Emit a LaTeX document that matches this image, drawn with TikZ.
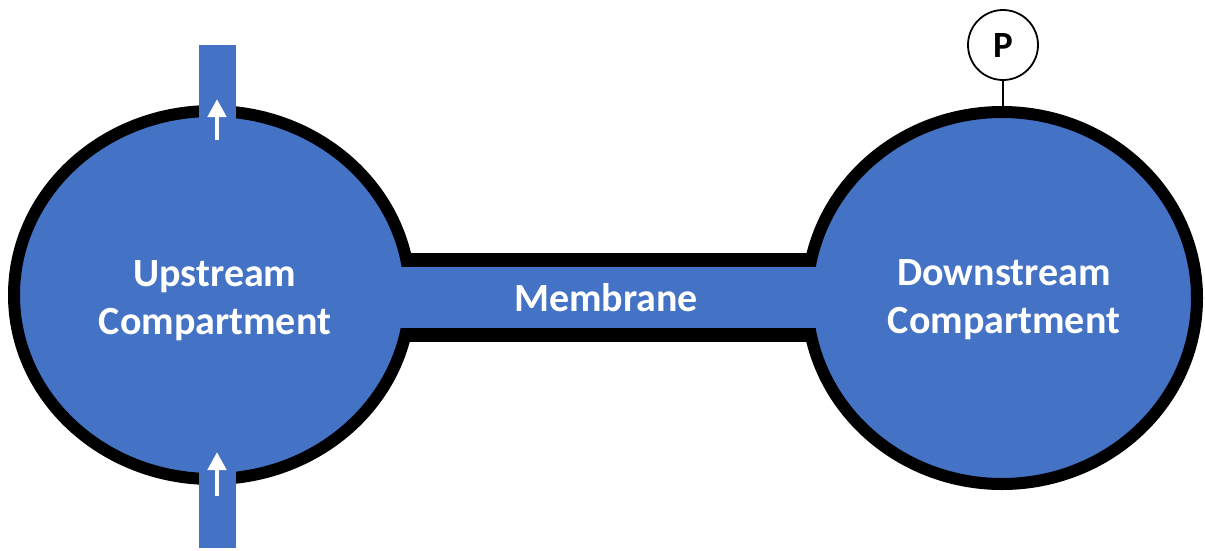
\documentclass[tikz,border=0pt]{standalone}
\usepackage{fontspec}
\setmainfont{Carlito}
\usetikzlibrary{shapes.geometric,arrows.meta}
\definecolor{officeblue}{HTML}{4472C4}
\begin{document}
\begin{tikzpicture}[x=1pt,y=-1pt,
  compartment/.style={ellipse,draw=black,line width=12pt,fill=officeblue,
    inner sep=0pt,minimum width=#1,text=white,align=center,
    font=\bfseries\fontsize{40}{49}\selectfont},
  pipe/.style={fill=officeblue},
  flowarrow/.style={draw=white,line width=4.5pt,-{Triangle[length=18pt,width=18pt]}},
  gauge/.style={circle,draw=black,line width=1.8pt,fill=white,minimum size=70pt,
    inner sep=0pt,font=\bfseries\fontsize{37}{44}\selectfont},
  label/.style={text=white,font=\bfseries\fontsize{40}{48}\selectfont}]
\useasboundingbox (0,0) rectangle (1205,550);
% channel walls
\fill[black] (380,253) rectangle (830,342);
% compartments
\node[compartment=396pt,minimum height=368pt] (up) at (212,295) {};
\node[compartment=390pt,minimum height=372pt] (down) at (1002,298) {};
\node[label,align=center] (uptext) at (215,301) {Upstream\\Compartment};
\node[label,align=center] (downtext) at (1004,300) {Downstream\\Compartment};
% channel interior
\fill[officeblue] (392,267) rectangle (826,328);
\node[label] (mem) at (606,298) {Membrane};
% pipes
\fill[pipe] (199,45) rectangle (236,150);
\fill[pipe] (199,440) rectangle (236,548);
% arrows
\coordinate (a1s) at (217,140);
\coordinate (a1e) at (217,99);
\coordinate (a2s) at (217,496);
\coordinate (a2e) at (217,452);
\draw[flowarrow] (a1s) -- (a1e);
\draw[flowarrow] (a2s) -- (a2e);
% pressure gauge
\node[gauge] (P) at (1003,45) {P};
\draw[line width=1.8pt] (P.south) -- (P.south |- down.north);
\end{tikzpicture}
\end{document}
